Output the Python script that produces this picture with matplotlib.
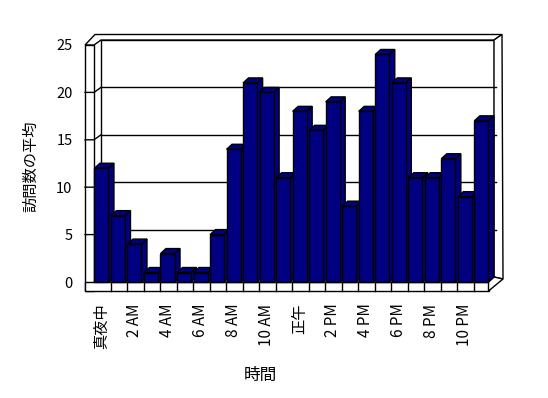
import matplotlib
matplotlib.use("Agg")
import matplotlib.pyplot as plt
from matplotlib.patches import Polygon, Rectangle

plt.rcParams['font.family'] = ['Noto Sans CJK JP', 'DejaVu Sans']
plt.rcParams['font.size'] = 10

# data
hours = list(range(24))
visits = [12, 7, 4, 1, 3, 1, 1, 5, 14, 21, 20, 11,
          18, 16, 19, 8, 18, 24, 21, 11, 11, 13, 9, 17]
tick_pos = list(range(0, 24, 2))
tick_labels = ['真夜中', '2 AM', '4 AM', '6 AM', '8 AM', '10 AM',
               '正午', '2 PM', '4 PM', '6 PM', '8 PM', '10 PM']
yticks = [0, 5, 10, 15, 20, 25]

W, H = 548, 398
navy = '#000080'

fig = plt.figure(figsize=(W / 100, H / 100), dpi=100)

# background axes in pixel coords for the 3D frame
bg = fig.add_axes([0, 0, 1, 1])
bg.set_xlim(0, W)
bg.set_ylim(H, 0)
bg.axis('off')

x_left, x_right = 94, 488.8
y_bot, y_top = 282, 45
sx = (x_right - x_left) / 23.9
sy = (y_bot - y_top) / 25.0

ec = dict(facecolor='white', edgecolor='black', linewidth=1)
# back wall
bg.add_patch(Rectangle((101, 40), 393, 237, **ec))
# top strip
bg.add_patch(Polygon([(85, 45), (95, 34.5), (502, 34.5), (494, 40), (101, 40), (94, 45)], **ec))
# back wall right side
bg.add_patch(Polygon([(494, 40), (502, 34.5), (503, 279), (494, 277)], **ec))
# left wall front face
bg.add_patch(Rectangle((85, 45), 9, 246, **ec))
# floor top, front, right side
bg.add_patch(Polygon([(94, 282), (101, 277), (494, 277), (488.5, 282)], **ec))
bg.add_patch(Rectangle((85, 282), 403.5, 9, **ec))
bg.add_patch(Polygon([(488.5, 282), (494, 277), (503, 279), (488.5, 291)], **ec))

# data axes on top
ax = fig.add_axes([x_left / W, 1 - y_bot / H, (x_right - x_left) / W, (y_bot - y_top) / H])
ax.set_zorder(2)
ax.patch.set_visible(False)
ax.set_xlim(-0.45, 23.45)
ax.set_ylim(0, 25)
for s in ax.spines.values():
    s.set_visible(False)

wall_dx = 7 / sx
wall_dy = 5 / sy
wall_t = 9 / sx
x0, x1 = ax.get_xlim()

# gridlines on back wall + wall ticks
for v in yticks[1:-1]:
    ax.plot([x0 + wall_dx, x1 + wall_dx], [v + wall_dy, v + wall_dy], color='black', lw=1, clip_on=False, zorder=1)
    ax.plot([x0 - wall_t, x0, x0 + wall_dx], [v, v, v + wall_dy], color='black', lw=1, clip_on=False, zorder=1)

# floor cell dividers
for k in range(1, 24):
    ax.plot([x0 + k, x0 + k], [0, -9 / sy], color='black', lw=1, clip_on=False, zorder=1)

# 3D bars
bw = 0.85
dx = 5.5 / sx
dy = 5 / sy
for h, v in zip(hours, visits):
    left = h - bw / 2
    side = Polygon([(left + bw, 0), (left + bw, v), (left + bw + dx, v + dy), (left + bw + dx, dy)],
                   facecolor=navy, edgecolor='black', lw=1, zorder=3, clip_on=False)
    top = Polygon([(left, v), (left + bw, v), (left + bw + dx, v + dy), (left + dx, v + dy)],
                  facecolor=navy, edgecolor='black', lw=1, zorder=3, clip_on=False)
    ax.add_patch(side)
    ax.add_patch(top)
    ax.bar(h, v, width=bw, color=navy, edgecolor='black', linewidth=1, zorder=3, clip_on=False)

ax.set_yticks(yticks)
ax.set_yticklabels([str(v) for v in yticks])
ax.set_xticks(tick_pos)
ax.set_xticklabels(tick_labels, rotation=90)
ax.tick_params(axis='y', length=0, pad=15.5, labelsize=10.5)
ax.tick_params(axis='x', length=0, pad=15.5, labelsize=11)

fig.text(31 / W, 1 - 166 / H, '訪問数の平均', rotation=90, ha='center', va='center', fontsize=11)
fig.text(260 / W, 1 - 375 / H, '時間', ha='center', va='center', fontsize=12)

fig.savefig('out.png', dpi=100)
